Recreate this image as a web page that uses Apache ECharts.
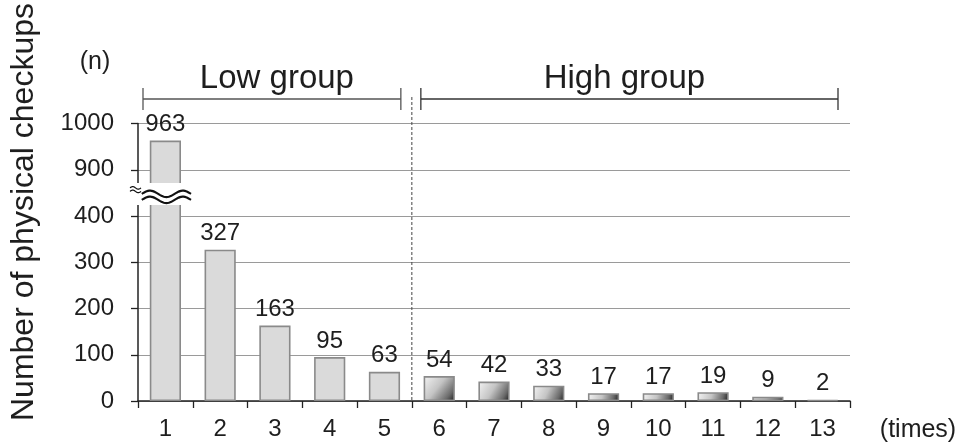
<!DOCTYPE html>
<html>
<head>
<meta charset="utf-8">
<script src="https://cdn.jsdelivr.net/npm/echarts@6/dist/echarts.min.js"></script>
<style>
html,body{margin:0;padding:0;background:#fff;}
#c{width:957px;height:442px;}
</style>
</head>
<body>
<div id="c"></div>
<script>
var categories = ['1','2','3','4','5','6','7','8','9','10','11','12','13'];
var checkups = [963, 327, 163, 95, 63, 54, 42, 33, 17, 17, 19, 9, 2];
var yTickLabels = ['0','100','200','300','400','900','1000'];
var lowGroupCount = 5;
var breakShift = 400; // values >= 900 are drawn 400 lower (900 sits where 500 would)

var FONT = 'Liberation Sans, Arial, sans-serif';
var TXT = '#1e1e1e';

function toDisplay(v){ return v >= 900 ? v - breakShift : v; }

var chart = echarts.init(document.getElementById('c'), null, {renderer:'canvas'});

var barData = checkups.map(function(v, i){
  var style;
  if (i < lowGroupCount) {
    style = {color:'#dadada', borderColor:'#8a8a8a', borderWidth:1.6};
  } else {
    style = {
      color: new echarts.graphic.LinearGradient(0,0,1,1,[
        {offset:0, color:'#f4f4f4'},
        {offset:0.45, color:'#c4c4c4'},
        {offset:0.8, color:'#6a6a6a'},
        {offset:1, color:'#1a1a1a'}
      ]),
      borderColor:'#8a8a8a', borderWidth:1.6
    };
  }
  return {value: toDisplay(v), itemStyle: style};
});

chart.setOption({
  animation:false,
  grid:{left:138, right:107, top:123.5, bottom:41, containLabel:false},
  xAxis:{
    type:'category',
    data:categories,
    axisLine:{lineStyle:{color:'#222', width:1.5}},
    axisTick:{show:true, length:7, lineStyle:{color:'#222', width:1.3}},
    axisLabel:{color:TXT, fontSize:24, fontFamily:FONT, margin:16}
  },
  yAxis:{
    type:'value',
    min:0, max:600, interval:100,
    axisLine:{show:true, lineStyle:{color:'#222', width:1.5}},
    axisTick:{show:true, length:7, lineStyle:{color:'#222', width:1.3}},
    splitLine:{lineStyle:{color:'#9a9a9a', width:1.2}},
    axisLabel:{color:TXT, fontSize:24, fontFamily:FONT, margin:24,
      formatter:function(v){ return yTickLabels[Math.round(v/100)]; }}
  },
  series:[{
    type:'bar',
    data:barData,
    barWidth:'57%',
    label:{show:true, position:'top', distance:4, color:TXT, fontSize:24, fontFamily:FONT,
      formatter:function(p){ return String(checkups[p.dataIndex]); }}
  }]
});

function px(xi, yv){ return chart.convertToPixel({gridIndex:0}, [xi, yv]); }

var p0 = px(0, 0);
var band = px(1,0)[0] - px(0,0)[0];
var axisX = p0[0] - band/2;
var axisRight = px(12,0)[0] + band/2;
var yZero = p0[1];
var yBreak = px(0, 450)[1];
var sepX = axisX + band*lowGroupCount;
var bracketY = 99;

function wave(x0, x1, yc, amp, periods){
  var pts = [];
  var n = 40;
  for (var k=0;k<=n;k++){
    var t = k/n;
    pts.push([x0 + (x1-x0)*t, yc - amp*Math.sin(t*periods*2*Math.PI)]);
  }
  return pts;
}

var barHalf = band*0.57/2;
var b0x = p0[0];
var graphics = [
  // axis break: white gap
  {type:'rect', shape:{x:axisX-12, y:yBreak-10, width:(b0x+barHalf+4)-(axisX-12), height:22}, style:{fill:'#fff'}, z:100},
  {type:'polyline', shape:{points:wave(b0x-barHalf-8, b0x+barHalf+10, yBreak+1, 3.2, 1.5)}, style:{stroke:'#111', lineWidth:2.2, fill:null}, z:101},
  {type:'polyline', shape:{points:wave(b0x-barHalf-8, b0x+barHalf+10, yBreak+7, 3.2, 1.5)}, style:{stroke:'#111', lineWidth:2.2, fill:null}, z:101},
  {type:'polyline', shape:{points:wave(axisX-8, axisX+3, yBreak-5, 1.3, 1)}, style:{stroke:'#111', lineWidth:1.2, fill:null}, z:101},
  {type:'polyline', shape:{points:wave(axisX-8, axisX+3, yBreak-1.5, 1.3, 1)}, style:{stroke:'#111', lineWidth:1.2, fill:null}, z:101},
  // separator dashed line
  {type:'line', shape:{x1:sepX, y1:97, x2:sepX, y2:yZero}, style:{stroke:'#444', lineWidth:1, lineDash:[3,2]}, z:50},
  // Low group bracket
  {type:'line', shape:{x1:axisX+5, y1:bracketY, x2:sepX-11, y2:bracketY}, style:{stroke:'#555', lineWidth:1.5}},
  {type:'line', shape:{x1:axisX+5, y1:88, x2:axisX+5, y2:110}, style:{stroke:'#555', lineWidth:1.3}},
  {type:'line', shape:{x1:sepX-11, y1:88, x2:sepX-11, y2:110}, style:{stroke:'#555', lineWidth:1.3}},
  {type:'text', x:(axisX+5+sepX-11)/2+5, y:79, style:{text:'Low group', fill:TXT, font:'33px '+FONT, textAlign:'center', textVerticalAlign:'middle'}},
  // High group bracket
  {type:'line', shape:{x1:sepX+9, y1:bracketY, x2:axisRight-12, y2:bracketY}, style:{stroke:'#333', lineWidth:1.3}},
  {type:'line', shape:{x1:sepX+9, y1:88, x2:sepX+9, y2:110}, style:{stroke:'#333', lineWidth:1.3}},
  {type:'line', shape:{x1:axisRight-12, y1:88, x2:axisRight-12, y2:110}, style:{stroke:'#333', lineWidth:1.3}},
  {type:'text', x:(sepX+9+axisRight-12)/2-5, y:79, style:{text:'High group', fill:TXT, font:'33px '+FONT, textAlign:'center', textVerticalAlign:'middle'}},
  // unit labels
  {type:'text', x:95, y:62, style:{text:'(n)', fill:TXT, font:'25px '+FONT, textAlign:'center', textVerticalAlign:'middle'}},
  {type:'text', x:918, y:430, style:{text:'(times)', fill:TXT, font:'25px '+FONT, textAlign:'center', textVerticalAlign:'middle'}},
  // y-axis title
  {type:'text', x:24, y:212, rotation:Math.PI/2, style:{text:'Number of physical checkups', fill:TXT, font:'32px '+FONT, textAlign:'center', textVerticalAlign:'middle'}}
];
chart.setOption({graphic:graphics});
</script>
</body>
</html>
